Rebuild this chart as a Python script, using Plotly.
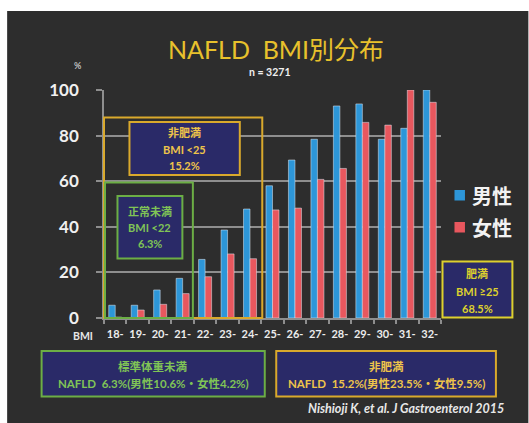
import plotly.graph_objects as go

# BMI classes (lower bound of each 1-unit bin)
bmi_bins = ["18-", "19-", "20-", "21-", "22-", "23-", "24-", "25-",
            "26-", "27-", "28-", "29-", "30-", "31-", "32-"]
# NAFLD prevalence (%) by BMI bin
male_pct = [5.6, 5.6, 12.3, 17.4, 25.7, 38.6, 47.8, 58.0,
            69.3, 78.4, 93.0, 93.9, 78.4, 83.2, 100.0]
female_pct = [0.4, 3.5, 6.0, 10.7, 18.1, 28.1, 26.0, 47.4,
              48.2, 60.8, 65.6, 85.8, 84.6, 100.0, 94.6]
y_ticks = [0, 20, 40, 60, 80, 100]
series_names = ["男性", "女性"]

W, H = 529, 423
L, R, T, B = 104, 87.5, 90, 105
PW, PH = W - L - R, H - T - B

BG = "#2d2d2d"
NAVY = "#2a2a68"
GOLD = "#d9a92c"
GOLD_TXT = "#eec44a"
YELLOW = "#ddd02e"
GREEN = "#6cae45"
GREEN_TXT = "#80c456"
GRID = "#8e8e8e"
BLUE = "#2d96d8"
RED = "#e8575e"
FONT = "Lato, Noto Sans CJK JP, sans-serif"
JP = "Noto Sans CJK JP, sans-serif"


def px(x):
    return (x - L) / PW


def py(y):
    return (H - B - y) / PH


fig = go.Figure()
fig.add_trace(go.Bar(x=bmi_bins, y=male_pct, name=series_names[0],
                     marker_color=BLUE))
fig.add_trace(go.Bar(x=bmi_bins, y=female_pct, name=series_names[1],
                     marker_color=RED))

shapes = []
annotations = []

# dark slide panel on a white page
shapes.append(dict(type="rect", xref="paper", yref="paper", layer="below",
                   x0=px(7), x1=px(W), y0=py(H), y1=py(11),
                   fillcolor=BG, line_width=0))


def box(x0, y0, x1, y1, color, fill=None, width=2):
    shapes.append(dict(type="rect", xref="paper", yref="paper",
                       x0=px(x0), x1=px(x1), y0=py(y1), y1=py(y0),
                       line=dict(color=color, width=width),
                       fillcolor=fill if fill else "rgba(0,0,0,0)"))


def text(x, y, s, color, size, bold=True, family=FONT, xanchor="center",
         italic=False):
    annotations.append(dict(xref="paper", yref="paper", x=px(x), y=py(y),
                            text=s, showarrow=False, xanchor=xanchor,
                            yanchor="middle",
                            font=dict(color=color, size=size, family=family,
                                      weight="bold" if bold else "normal",
                                      style="italic" if italic else "normal")))


# BMI < 25 frame and label
box(104, 117.5, 262.5, 318, GOLD)
box(129.5, 122, 240, 175, GOLD, NAVY)
text(185, 132, "非肥満", GOLD_TXT, 11)
text(185, 149, "BMI <25", GOLD_TXT, 11)
text(185, 165.5, "15.2%", GOLD_TXT, 11)

# BMI < 22 frame and label
box(105, 182.5, 193, 318, GREEN)
box(117.5, 196, 182.5, 258.5, GREEN, NAVY)
text(150, 211, "正常未満", GREEN_TXT, 11)
text(150, 227, "BMI <22", GREEN_TXT, 11)
text(150, 243, "6.3%", GREEN_TXT, 11)

# BMI >= 25 label
box(443, 261.5, 513, 317.5, YELLOW, NAVY)
text(478, 273.5, "肥満", YELLOW, 11)
text(478, 291, "BMI ≥25", YELLOW, 11)
text(478, 308, "68.5%", YELLOW, 11)

# summary boxes below the axis
box(41.5, 351, 265, 396.5, GREEN, NAVY)
text(153, 366.5, "標準体重未満", GREEN_TXT, 11.5)
text(154, 383.5, "NAFLD  6.3%(男性10.6%・女性4.2%)", GREEN_TXT, 11.5)
box(276.5, 351, 496.5, 396.5, GOLD, NAVY)
text(386.5, 366.5, "非肥満", GOLD_TXT, 11.5)
text(386.5, 383.5, "NAFLD  15.2%(男性23.5%・女性9.5%)", GOLD_TXT, 11.5)

# series key: colour swatch + name
for i, (name, color) in enumerate(zip(series_names, [BLUE, RED])):
    yc = 195 + 32 * i
    shapes.append(dict(type="rect", xref="paper", yref="paper",
                       x0=px(455), x1=px(465.5), y0=py(yc + 5.5),
                       y1=py(yc - 5), fillcolor=color, line_width=0))
    text(471, yc, name, "#f2f2f2", 20, family=JP, xanchor="left")

# axis captions, subtitle and source
text(78, 65.5, "%", "#bdbdbd", 9)
text(83, 336, "BMI", "#e6e6e6", 10.5)
text(270, 72, "n = 3271", "#f0f0f0", 10.5)
text(507, 408, "Nishioji K, et al. J Gastroenterol 2015", "#e8e8e8", 12.5,
     xanchor="right", italic=True)

fig.update_layout(
    width=W, height=H,
    margin=dict(l=L, r=R, t=T, b=B, pad=0, autoexpand=False),
    paper_bgcolor="white", plot_bgcolor="rgba(0,0,0,0)",
    barmode="group", bargap=0.42, bargroupgap=0,
    showlegend=False,
    title=dict(text="NAFLD  BMI別分布", x=276 / W, xref="container",
               xanchor="center", y=1 - 50 / H, yanchor="middle",
               font=dict(family=FONT, size=25, color="#e8c12c")),
    shapes=shapes, annotations=annotations,
)
fig.update_xaxes(type="category", categoryorder="array", categoryarray=bmi_bins,
                 showline=True, linecolor=GRID, linewidth=1.5,
                 ticks="outside", tickson="boundaries", ticklen=4,
                 tickcolor=GRID, tickwidth=1.5, showgrid=False,
                 tickangle=0, ticklabelstandoff=5,
                 tickfont=dict(family=FONT, size=11, color="#ececec",
                               weight="bold"))
fig.update_yaxes(range=[0, 100], tickvals=y_ticks, showgrid=True,
                 gridcolor=GRID, gridwidth=1.5, showline=True, linecolor=GRID,
                 linewidth=1.5, ticks="outside", ticklen=6, tickcolor=GRID,
                 tickwidth=1.5, zeroline=False, ticklabelstandoff=14,
                 tickfont=dict(family=FONT, size=17, color="#f0f0f0",
                               weight="bold"))

# keep the page itself from showing scrollbars around the fixed-size figure
page_style = ("document.documentElement.style.overflow='hidden';"
              "document.body.style.margin='0';"
              "document.body.style.overflow='hidden';")
fig.write_html("out.html", post_script=page_style)
